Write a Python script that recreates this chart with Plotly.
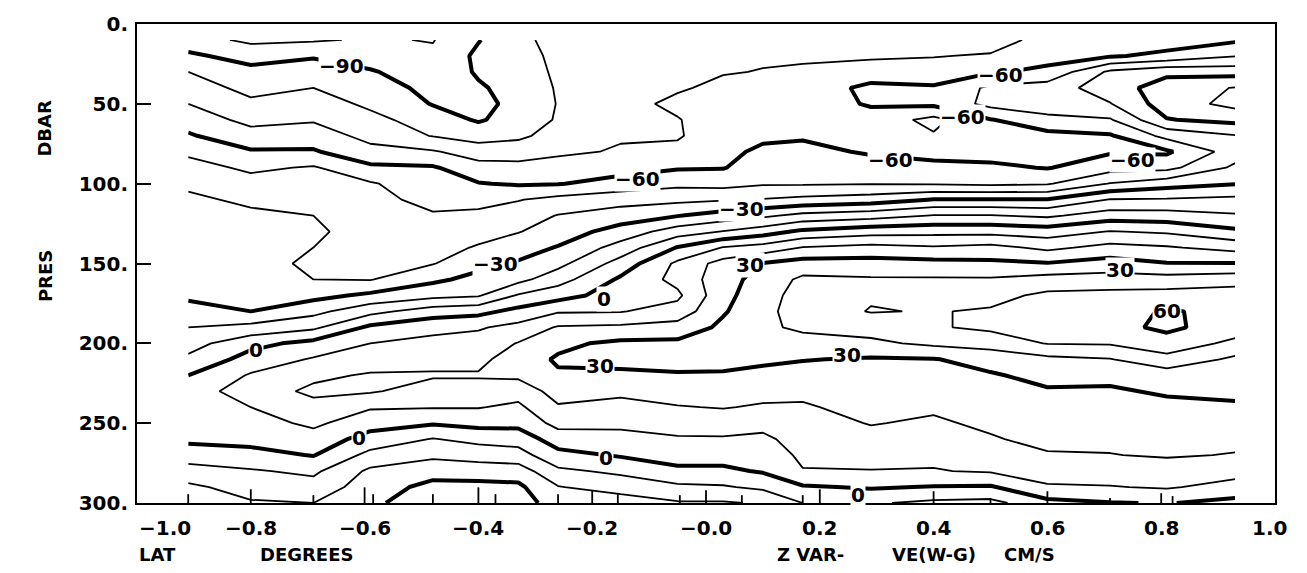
import numpy as np
import plotly.graph_objects as go

# Station latitudes (columns) and pressure levels (rows)
lat = [-0.91, -0.80, -0.69, -0.59, -0.48, -0.40, -0.33, -0.26, -0.15, -0.05,
       0.03, 0.10, 0.17, 0.29, 0.40, 0.50, 0.60, 0.71, 0.81, 0.93]
pres = list(range(10, 301, 10))

# Zonal velocity profiles (cm/s), one per station, top (10 dbar) to bottom (300 dbar)
st01 = [-96, -88, -80, -75, -70, -64, -59, -52, -46, -41, -39, -38, -36, -35, -34,
        -32, -31, -28, -20, -14, -8, 0, 5, 7, 5, 2, -5, -14, -22, -28]
st02 = [-102, -94, -87, -83, -78, -73, -66, -59, -52, -46, -41, -39, -38, -37, -36,
        -34, -32, -30, -17, -3, 4, 11, 15, 10, 6, 3, -3, -11, -16, -21]
st03 = [-101, -91, -85, -80, -75, -71, -65, -59, -49, -46, -43, -40, -38, -40, -42,
        -40, -33, -23, -12, 3, 11, 18, 22, 17, 12, 6, 0.5, -8, -14, -20]
st04 = [-99, -95, -89, -85, -82, -77, -73, -67, -58, -49, -47, -46, -45, -44, -42,
        -40.5, -28, -13, 2, 10, 15, 21, 21, 11, 4, -4, -13, -22, -25, -28]
st05 = [-100.5, -98, -96, -93, -90.5, -85, -80.5, -69, -59, -56, -53, -49, -46, -44, -40.5,
        -32, -23, -5, 7, 13, 17, 21, 16, 10.5, 1, -10.5, -18, -26, -33, -36]
st06 = [-90.5, -88, -89, -91, -92, -91, -84, -75, -66, -59.5, -53, -48, -44, -39, -33,
        -27, -21, -3, 9, 14, 17, 21, 16, 10.5, 3, -7, -16, -25, -33, -36]
st07 = [-83, -85, -86, -87, -88, -86, -82, -74.5, -67, -61, -50.5, -45, -40.5, -34, -29,
        -23, -9, 3, 13, 20.5, 26, 22, 14, 8, 3, -6, -14, -25, -32, -33]
st08 = [-76, -77, -78, -79, -79.5, -79, -76, -72, -65, -60.5, -47, -39.5, -35, -29.4, -23,
        -14, -4, 9, 21, 28, 31, 29, 24, 19, 13, 5, -3, -12, -20.5, -27]
st09 = [-75, -75, -75, -74, -73, -72, -71, -69, -64, -56, -44, -35, -26, -16, -6,
        1.6, 5, 9.5, 22, 32, 33, 28, 22, 17, 12, 7, 1, -8, -16, -25]
st10 = [-73, -73, -72, -71, -68, -70.5, -71, -67.5, -61, -52.5, -42.5, -30.5, -15, 0.5, 12,
        13, 8, 14, 24, 32, 34, 29, 24, 19.5, 14, 9, 4, -2, -12, -21]
st11 = [-72, -71, -70.5, -68, -66, -65, -64, -62, -60.5, -53.5, -41, -26, -9.5, 10.5, 24,
        26, 27, 29, 32, 35, 33, 29, 24, 20.5, 15, 9, 4, -2, -11, -21]
st12 = [-72, -71, -69.7, -67, -65, -63, -61.5, -58.5, -55, -51, -39.5, -22, -4.6, 14, 30.5,
        34, 36, 37, 38, 36, 32, 27, 23, 19, 13, 8, 4, 1, -8, -19]
st13 = [-72, -71, -69, -67, -65, -63, -61, -57.6, -54, -51, -37.5, -17, 2, 20.5, 34,
        42, 44, 45, 42, 36, 30.5, 26, 22, 19, 16, 14, 12, 9.5, -1, -10]
st14 = [-72, -71, -66.7, -57, -59, -64, -65, -61, -56, -50.5, -35, -14, 6, 23, 34,
        41, 49, 50.5, 44, 38, 29, 27, 25, 23, 20.5, 17, 13, 9.7, 1, -9]
st15 = [-73, -70.5, -65, -59, -58, -73, -69, -63, -57.5, -51, -29.5, -9.5, 7, 21, 33,
        41, 46, 49.5, 49, 42, 29.5, 27.5, 25, 21.5, 18.5, 15, 12, 9.5, -0.5, -12]
st16 = [-75, -69, -61, -48, -47, -60.5, -64, -64, -58, -52, -29.5, -9.5, 7, 23, 32,
        41, 47, 51, 52, 44, 34, 29, 27, 25, 22, 19, 15, 11, -1, -13]
st17 = [-66, -63, -58, -45, -44, -53, -63, -64, -60.5, -51, -29.5, -11.7, 5, 17.8, 30.5,
        44, 52, 56, 56, 50.5, 37.5, 33, 29, 27, 25, 23, 19, 14, 9, -3]
st18 = [-65, -61, -38, -35, -40.5, -51, -61, -61, -54, -39.5, -19.5, -5, 10.5, 23, 34,
        44.5, 53, 56, 57, 51, 39.5, 32, 29, 27, 25, 22, 19.7, 15, 9.5, -0.5]
st19 = [-65, -57.5, -32.5, -25, -25, -30.5, -47, -61.5, -53, -34, -19, -5.7, 8.6, 21, 30.5,
        44, 54, 61, 62, 56, 46.7, 35, 31, 28, 26, 24, 21, 15, 11, 0.5]
st20 = [-61.5, -50.5, -34, -19.5, -17, -27, -40.5, -45, -38, -30.5, -17.5, -9, 2, 16.7, 30.5,
        46, 55, 57, 55, 47.5, 38, 35, 32, 28.7, 26.5, 22.5, 19.5, 13.7, 6.4, -3]

profiles = [st01, st02, st03, st04, st05, st06, st07, st08, st09, st10,
            st11, st12, st13, st14, st15, st16, st17, st18, st19, st20]

# Station positions marked along the bottom axis
station_lat = [-0.91, -0.80, -0.69, -0.60, -0.585, -0.48, -0.40, -0.37, -0.26, -0.20,
               -0.155, -0.046, 0.0, 0.063, 0.17, 0.20, 0.40, 0.50, 0.60, 0.71, 0.80, 0.82]

# Axis tick labels
x_tick_vals = [-1.0, -0.8, -0.6, -0.4, -0.2, 0.0, 0.2, 0.4, 0.6, 0.8, 1.0]
x_tick_text = ["\u22121.0", "\u22120.8", "\u22120.6", "\u22120.4", "\u22120.2", "\u22120.0",
               "0.2", "0.4", "0.6", "0.8", "1.0"]
y_tick_vals = [0, 50, 100, 150, 200, 250, 300]
y_tick_text = ["0.", "50.", "100.", "150.", "200.", "250.", "300."]

# Contour labels: (value, lat, pressure)
label_vals = [-90, -60, -60, -60, -60, -60, -30, -30, 0, 0, 0, 0, 0, 30, 30, 30, 30, 60]
label_lat = [-0.64, -0.12, 0.517, 0.45, 0.325, 0.75, -0.37, 0.062, -0.79, -0.18, -0.61,
             -0.176, 0.267, 0.077, -0.186, 0.248, 0.728, 0.81]
label_pres = [26, 97, 32, 58, 85, 85, 150, 116, 204, 172, 259, 272, 295, 151, 214, 207, 154, 180]

z = np.array(profiles, dtype=float).T  # rows = pressure, columns = station

FONT = "DejaVu Sans"
fig = go.Figure()


def contour(start, end, width):
    return go.Contour(
        x=lat, y=pres, z=z, autocontour=False,
        contours=dict(start=start, end=end, size=30, coloring="none", showlabels=False),
        line=dict(color="black", width=width, smoothing=0),
        showscale=False, hoverinfo="skip",
    )


# thin isolines every 10 cm/s, heavy isolines every 30 cm/s
fig.add_trace(contour(-100, 50, 1.8))
fig.add_trace(contour(-80, 40, 1.8))
fig.add_trace(contour(-90, 60, 4.0))

# station marks rising from the bottom axis
mark_len_px = [9, 14, 8, 16, 9, 9, 16, 9, 9, 13, 9, 8, 13, 8, 8, 14, 12, 5, 12, 5, 10, 7]
px_per_dbar = 489 / 300
sx, sy = [], []
for xv, L in zip(station_lat, mark_len_px):
    sx += [xv, xv, None]
    sy += [300, 300 - L / px_per_dbar, None]
fig.add_trace(go.Scatter(x=sx, y=sy, mode="lines", line=dict(color="black", width=1.8),
                         hoverinfo="skip", showlegend=False))

annotations = []
for v, xv, yv in zip(label_vals, label_lat, label_pres):
    txt = ("\u2212" + str(abs(v))) if v < 0 else str(v)
    annotations.append(dict(x=xv, y=yv, xref="x", yref="y", text=txt, showarrow=False,
                            font=dict(family=FONT, size=20, color="black", weight="bold"),
                            bgcolor="white", borderpad=0, xanchor="center", yanchor="middle"))

for v, t in zip(x_tick_vals, x_tick_text):
    annotations.append(dict(x=v, y=0, xref="x", yref="paper", text=t, showarrow=False,
                            font=dict(family=FONT, size=20, color="black", weight="bold"),
                            xanchor="left" if v == -1.0 else "center", yanchor="top",
                            yshift=-11, xshift=-6 if v == 1.0 else 0))

axis_words = [("LAT", -1.0), ("DEGREES", -0.787), ("Z VAR-", 0.121),
              ("VE(W-G)", 0.323), ("CM/S", 0.52)]
for t, xv in axis_words:
    annotations.append(dict(x=xv, y=0, xref="x", yref="paper", text=t, showarrow=False,
                            font=dict(family=FONT, size=18, color="black", weight="bold"),
                            xanchor="left", yanchor="middle", yshift=-51))

for t, yv in [("DBAR", 65), ("PRES", 158)]:
    annotations.append(dict(x=-0.081, y=yv, xref="paper", yref="y", text=t, showarrow=False,
                            textangle=-90,
                            font=dict(family=FONT, size=18, color="black", weight="bold"),
                            xanchor="center", yanchor="middle"))

fig.update_layout(
    width=1307, height=573,
    margin=dict(l=137, r=32, t=14, b=70),
    paper_bgcolor="white", plot_bgcolor="white",
    showlegend=False,
    annotations=annotations,
    xaxis=dict(range=[-1, 1], showticklabels=False, ticks="", showgrid=False, zeroline=False,
               showline=True, mirror=True, linecolor="black", linewidth=2),
    yaxis=dict(range=[300, 0], tickvals=y_tick_vals, ticktext=y_tick_text, ticks="inside",
               ticklen=14, tickwidth=2, tickcolor="black", showgrid=False, zeroline=False,
               showline=True, mirror=True, linecolor="black", linewidth=2,
               ticklabelstandoff=3,
               tickfont=dict(family=FONT, size=20, color="black", weight="bold")),
)

fig.write_html("out.html")
